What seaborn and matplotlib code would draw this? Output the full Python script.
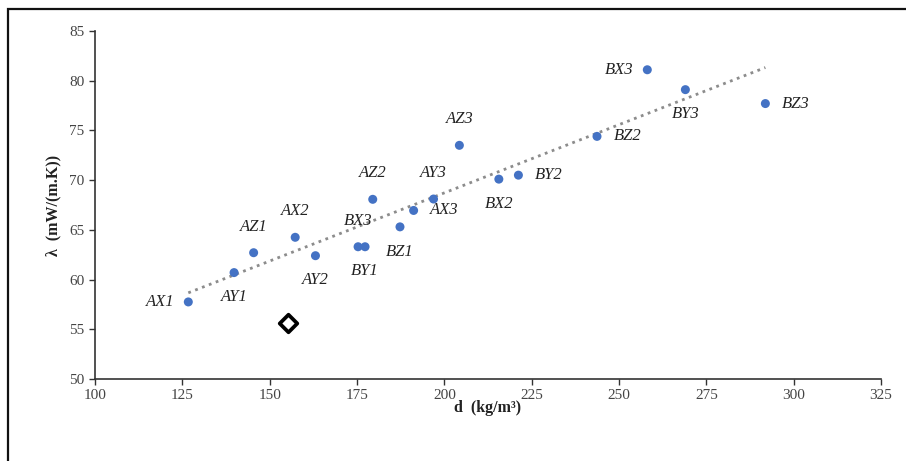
import numpy as np
import pandas as pd
import matplotlib
matplotlib.use("Agg")
import matplotlib.pyplot as plt
from matplotlib.patches import Rectangle
import seaborn as sns

# sample names, density (kg/m3) and thermal conductivity (mW/(m.K))
names = ["AX1", "AY1", "AZ1", "AX2", "AY2", "BX3", "BY1", "AZ2", "BZ1",
         "AX3", "AY3", "AZ3", "BX2", "BY2", "BZ2", "BX3", "BY3", "BZ3"]
densite = [126.7, 139.8, 145.4, 157.3, 163.1, 175.3, 177.3, 179.5, 187.3,
           191.2, 196.9, 204.3, 215.6, 221.2, 243.7, 258.1, 269.0, 291.9]
lambda_ = [57.75, 60.7, 62.7, 64.25, 62.4, 63.3, 63.3, 68.07, 65.3,
           66.95, 68.1, 73.5, 70.1, 70.5, 74.4, 81.1, 79.1, 77.7]
# position of each data label
pos_label = ["left", "below", "above", "above", "below", "above", "below", "above", "below",
             "right", "above", "above", "below", "right", "right", "left", "below", "right"]

# reference point (diamond)
ref_d = [155.1]
ref_l = [55.6]

df = pd.DataFrame({"d": densite, "lam": lambda_, "nom": names, "pos": pos_label})

sns.set_style("white")
plt.rcParams["font.family"] = ["Liberation Serif", "DejaVu Serif"]

fig = plt.figure(figsize=(9.06, 4.61), dpi=100)
ax = fig.add_axes([0.1049, 0.1779, 0.8675, 0.7549])

# trend line (linear)
sns.regplot(data=df, x="d", y="lam", scatter=False, ci=None, ax=ax,
            line_kws=dict(color="#8c8c8c", linestyle=":", linewidth=2))
sns.scatterplot(data=df, x="d", y="lam", ax=ax, color="#4472C4", s=42,
                edgecolor="none", zorder=3)
ax.scatter(ref_d, ref_l, marker="D", s=80, facecolor="white",
           edgecolor="black", linewidth=2.7, zorder=4)

offsets = {"above": ((0, 13), "center", "bottom"),
           "below": ((0, -12), "center", "top"),
           "left": ((-10, 0), "right", "center"),
           "right": ((12, 0), "left", "center")}
for _, r in df.iterrows():
    off, ha, va = offsets[r["pos"]]
    ax.annotate(r["nom"], (r["d"], r["lam"]), xytext=off, textcoords="offset points",
                ha=ha, va=va, fontsize=12, style="italic", color="#222222")

ax.set_xlim(100, 325)
ax.set_ylim(50, 85)
ax.set_xticks(np.arange(100, 326, 25))
ax.set_yticks(np.arange(50, 86, 5))
ax.tick_params(axis="both", direction="out", length=4, width=1, color="#333333",
               labelsize=11, labelcolor="#444444", left=True, bottom=True)
ax.set_xlabel("d  (kg/m³)", fontsize=11.5, fontweight="bold", color="#222222", labelpad=-2)
ax.set_ylabel("λ  (mW/(m.K))", fontsize=11.5, fontweight="bold", color="#222222", labelpad=6)

for s in ["top", "right"]:
    ax.spines[s].set_visible(False)
for s in ["left", "bottom"]:
    ax.spines[s].set_color("#333333")
    ax.spines[s].set_linewidth(1.2)

# outer frame (only top and left edges are visible)
fig.add_artist(Rectangle((7.5 / 906, -0.1), 1.2, (461 - 9) / 461 + 0.1,
                         transform=fig.transFigure, fill=False,
                         edgecolor="#111111", linewidth=1.6))

fig.savefig("out.png", dpi=100)
